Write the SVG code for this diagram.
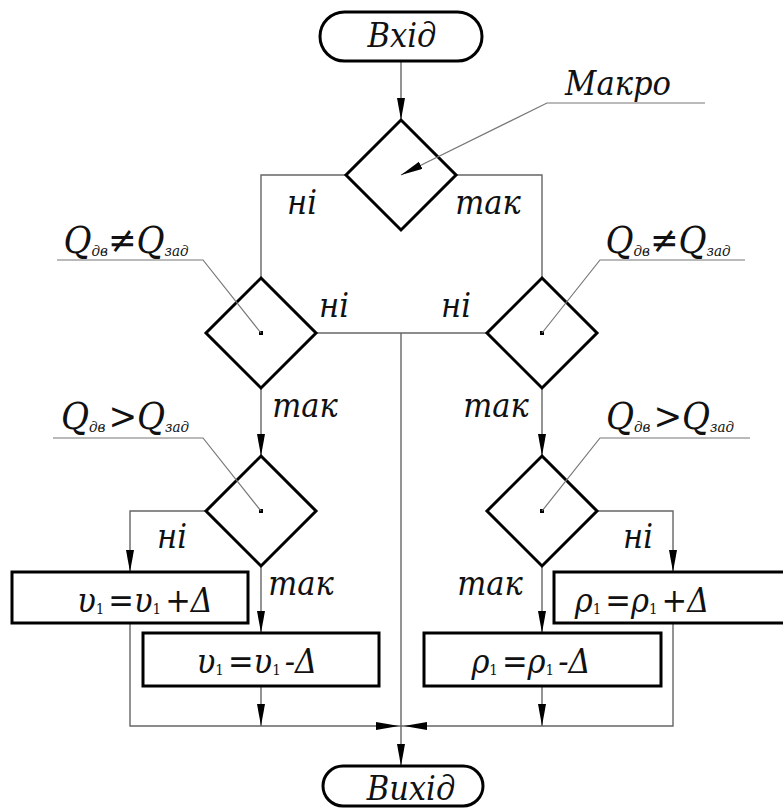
<svg xmlns="http://www.w3.org/2000/svg" width="783" height="809" viewBox="0 0 783 809">
  <style>
    .sh { fill: #fff; stroke: #000; stroke-width: 3; stroke-linejoin: miter; }
    .cn { fill: none; stroke: #666; stroke-width: 1.4; }
    .ld { fill: none; stroke: #777; stroke-width: 1.2; }
    .t  { font-family: 'DejaVu Serif Condensed', 'DejaVu Serif', serif; font-style: italic; font-size: 34px; fill: #111; text-anchor: middle; }
    .q  { font-size: 38px; }
    .sub { font-size: 15px; }
    .idx { font-size: 15px; font-style: normal; }
    .dot { fill: #000; }
    .ah { fill: #000; }
  </style>
  <defs>
    <marker id="arrow" markerUnits="userSpaceOnUse" markerWidth="24" markerHeight="10" refX="22" refY="4" orient="auto">
      <path class="ah" d="M0,0 L22,4 L0,8 Z"/>
    </marker>
  </defs>

  <rect width="783" height="809" fill="#fff"/>

  <!-- connectors -->
  <g id="connectors">
    <path class="cn" d="M401,61 V120" marker-end="url(#arrow)"/>
    <path class="cn" d="M346,175 H261 V278"/>
    <path class="cn" d="M456,175 H542 V278"/>
    <path class="cn" d="M316,333 H487"/>
    <path class="cn" d="M401,333 V766" marker-end="url(#arrow)"/>
    <path class="cn" d="M261,388 V456" marker-end="url(#arrow)"/>
    <path class="cn" d="M542,388 V456" marker-end="url(#arrow)"/>
    <path class="cn" d="M206,511 H130 V572" marker-end="url(#arrow)"/>
    <path class="cn" d="M261,566 V633" marker-end="url(#arrow)"/>
    <path class="cn" d="M597,511 H673 V572" marker-end="url(#arrow)"/>
    <path class="cn" d="M542,566 V633" marker-end="url(#arrow)"/>
    <path class="cn" d="M130,623 V726 H673 V623"/>
    <path class="cn" d="M261,686 V726" marker-end="url(#arrow)"/>
    <path class="cn" d="M542,686 V726" marker-end="url(#arrow)"/>
    <!-- junction arrowheads -->
    <path class="ah" d="M376,722 L399,726 L376,730 Z"/>
    <path class="ah" d="M427,722 L404,726 L427,730 Z"/>
  </g>

  <!-- terminals -->
  <g id="start">
    <rect class="sh" x="320" y="12" width="162" height="49" rx="24.5"/>
    <text class="t" x="402" y="47">Вхід</text>
  </g>
  <g id="end">
    <rect class="sh" x="323" y="766" width="160" height="40" rx="20"/>
    <text class="t" x="411" y="800">Вихід</text>
  </g>

  <!-- decision: macro -->
  <g id="macro">
    <path class="sh" d="M401,120 L456,175 L401,230 L346,175 Z"/>
    <path class="ld" d="M705,103 H547 L401,175" marker-end="url(#arrow)"/>
    <text class="t" x="618" y="95">Макро</text>
    <text class="t" x="302" y="214">ні</text>
    <text class="t" x="488" y="214">так</text>
  </g>

  <!-- decision: left Q not equal -->
  <g id="neq-left">
    <path class="sh" d="M261,278 L316,333 L261,388 L206,333 Z"/>
    <rect class="dot" x="259" y="331" width="4" height="4"/>
    <path class="ld" d="M261,333 L203,260 H57"/>
    <text class="t q" x="126" y="253">Q<tspan class="sub" dy="3">дв</tspan><tspan dy="-3">≠Q</tspan><tspan class="sub" dy="3">зад</tspan></text>
    <text class="t" x="334" y="317">ні</text>
    <text class="t" x="305" y="417">так</text>
  </g>

  <!-- decision: right Q not equal -->
  <g id="neq-right">
    <path class="sh" d="M542,278 L597,333 L542,388 L487,333 Z"/>
    <rect class="dot" x="540" y="331" width="4" height="4"/>
    <path class="ld" d="M542,333 L600,260 H745"/>
    <text class="t q" x="668" y="253">Q<tspan class="sub" dy="3">дв</tspan><tspan dy="-3">≠Q</tspan><tspan class="sub" dy="3">зад</tspan></text>
    <text class="t" x="456" y="317">ні</text>
    <text class="t" x="496" y="417">так</text>
  </g>

  <!-- decision: left Q greater -->
  <g id="gt-left">
    <path class="sh" d="M261,456 L316,511 L261,566 L206,511 Z"/>
    <rect class="dot" x="259" y="509" width="4" height="4"/>
    <path class="ld" d="M261,511 L203,438 H53"/>
    <text class="t q" x="125" y="429">Q<tspan class="sub" dy="3">дв</tspan><tspan dy="-3" dx="3">&gt;Q</tspan><tspan class="sub" dy="3">зад</tspan></text>
    <text class="t" x="172" y="548">ні</text>
    <text class="t" x="301" y="595">так</text>
  </g>

  <!-- decision: right Q greater -->
  <g id="gt-right">
    <path class="sh" d="M542,456 L597,511 L542,566 L487,511 Z"/>
    <rect class="dot" x="540" y="509" width="4" height="4"/>
    <path class="ld" d="M542,511 L600,438 H750"/>
    <text class="t q" x="670" y="429">Q<tspan class="sub" dy="3">дв</tspan><tspan dy="-3" dx="3">&gt;Q</tspan><tspan class="sub" dy="3">зад</tspan></text>
    <text class="t" x="638" y="548">ні</text>
    <text class="t" x="490" y="595">так</text>
  </g>

  <!-- process blocks -->
  <g id="v-plus">
    <rect class="sh" x="12" y="572" width="236" height="51"/>
    <text class="t" x="145" y="612">υ<tspan class="idx" dy="2">1</tspan><tspan dy="-2" dx="4">=υ</tspan><tspan class="idx" dy="2">1</tspan><tspan dy="-2" dx="4">+Δ</tspan></text>
  </g>
  <g id="v-minus">
    <rect class="sh" x="143" y="633" width="236" height="53"/>
    <text class="t" x="257" y="673">υ<tspan class="idx" dy="2">1</tspan><tspan dy="-2" dx="4">=υ</tspan><tspan class="idx" dy="2">1</tspan><tspan dy="-2" dx="4">-Δ</tspan></text>
  </g>
  <g id="rho-minus">
    <rect class="sh" x="424" y="633" width="237" height="53"/>
    <text class="t" x="531" y="673">ρ<tspan class="idx" dy="2">1</tspan><tspan dy="-2" dx="4">=ρ</tspan><tspan class="idx" dy="2">1</tspan><tspan dy="-2" dx="4">-Δ</tspan></text>
  </g>
  <g id="rho-plus">
    <rect class="sh" x="554" y="572" width="236" height="51"/>
    <text class="t" x="642" y="612">ρ<tspan class="idx" dy="2">1</tspan><tspan dy="-2" dx="4">=ρ</tspan><tspan class="idx" dy="2">1</tspan><tspan dy="-2" dx="4">+Δ</tspan></text>
  </g>
</svg>
